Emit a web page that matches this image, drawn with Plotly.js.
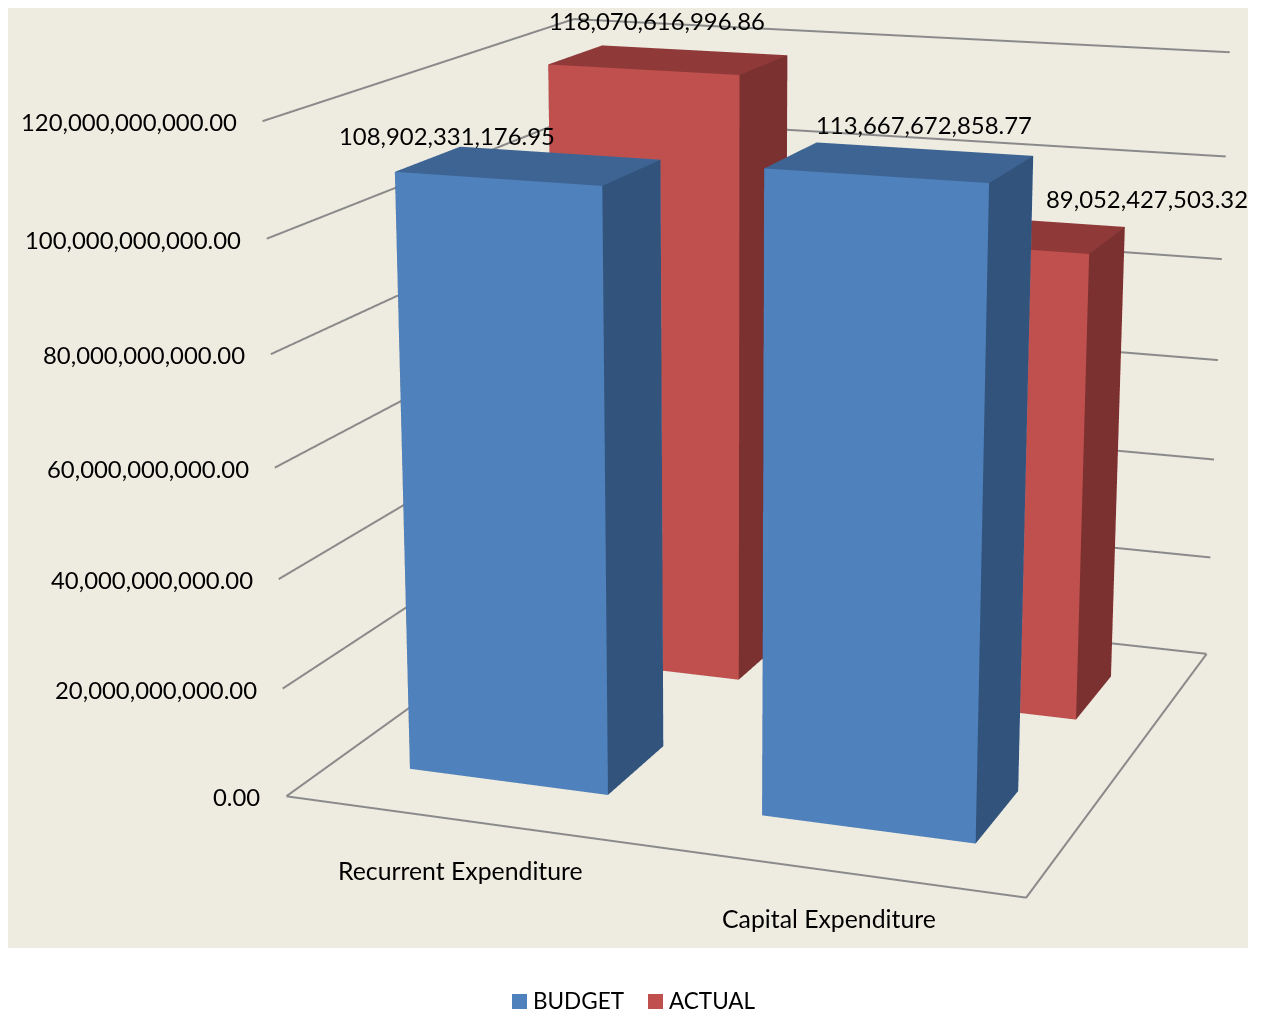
<!DOCTYPE html>
<html>
<head>
<meta charset="utf-8">
<script src="https://cdn.plot.ly/plotly-3.0.1.min.js"></script>
<style>
html,body{margin:0;padding:0;width:1262px;height:1012px;overflow:hidden;background:#fff}
#chart{position:absolute}
</style>
</head>
<body>
<div id="chart"></div>
<script>
// Budget against actual spending, drawn as 3D columns
const categories = ["Recurrent Expenditure", "Capital Expenditure"];
const budget = [108902331176.95, 113667672858.77];
const actual = [118070616996.86, 89052427503.32];
const zTicks = [0, 20e9, 40e9, 60e9, 80e9, 100e9, 120e9];

const seriesNames = ["BUDGET", "ACTUAL"];
const frontColors = ["#4F81BD", "#C0504D"];
const sideColors = ["#32547C", "#7B3130"];
const topColors = ["#3E6493", "#8F3A38"];

const FONT = "Lato, 'Open Sans', sans-serif";
const NUMBER_SIZE = 23.9;
const WORD_SIZE = 24.8;
const LEGEND_SIZE = 22.5;

// Screen offsets of the value labels from the top centre of their columns
const budgetLabelShift = [[-81.5, 30], [23.5, 38]];
const actualLabelShift = [[-12, 39], [140.5, 35]];
const categoryLabelShift = [[0, -50], [-1, -48]];

// The figure is larger than the window because gl3d has a fixed 45 degree field of view:
// a tall plot area gives the long focal length this view needs.
const W = 1446, H = 2832, LEFT = 1, TOP = -957;
const chartDiv = document.getElementById("chart");
chartDiv.style.left = LEFT + "px";
chartDiv.style.top = TOP + "px";
const paperX = px => (px - LEFT) / W;
const paperY = py => 1 - (py - TOP) / H;

const money = v => v.toLocaleString("en-US", {minimumFractionDigits: 2, maximumFractionDigits: 2});

const BAR_HALF_X = 0.5 / 1.75;   // 75% gap between categories
const BAR_HALF_Y = 0.5 / 2.5;    // 150% gap between series in depth

function columnMesh(values, seriesIndex) {
  const m = {x: [], y: [], z: [], i: [], j: [], k: [], facecolor: []};
  const front = frontColors[seriesIndex], side = sideColors[seriesIndex], top = topColors[seriesIndex];
  const quads = [
    [0, 1, 5, 4, front], [1, 2, 6, 5, side], [4, 5, 6, 7, top],
    [3, 0, 4, 7, side], [2, 3, 7, 6, front], [0, 3, 2, 1, top]
  ];
  values.forEach((v, c) => {
    const base = m.x.length;
    const x0 = c + 0.5 - BAR_HALF_X, x1 = c + 0.5 + BAR_HALF_X;
    const y0 = seriesIndex + 0.5 - BAR_HALF_Y, y1 = seriesIndex + 0.5 + BAR_HALF_Y;
    [[x0, y0, 0], [x1, y0, 0], [x1, y1, 0], [x0, y1, 0], [x0, y0, v], [x1, y0, v], [x1, y1, v], [x0, y1, v]]
      .forEach(p => { m.x.push(p[0]); m.y.push(p[1]); m.z.push(p[2]); });
    quads.forEach(q => {
      m.i.push(base + q[0], base + q[0]);
      m.j.push(base + q[1], base + q[2]);
      m.k.push(base + q[2], base + q[3]);
      m.facecolor.push(q[4], q[4]);
    });
  });
  return {
    type: "mesh3d", name: seriesNames[seriesIndex], flatshading: true,
    hoverinfo: "skip", showscale: false,
    lighting: {ambient: 1, diffuse: 0, specular: 0, fresnel: 0, roughness: 1},
    ...m
  };
}

// Wall gridlines and the open edges of the floor
const grid = {x: [], y: [], z: []};
zTicks.forEach(t => {
  grid.x.push(0, 0, categories.length, null);
  grid.y.push(0, 2, 2, null);
  grid.z.push(t, t, t, null);
});
grid.x.push(0, categories.length, categories.length);
grid.y.push(0, 0, 2);
grid.z.push(0, 0, 0);
const gridTrace = {
  type: "scatter3d", mode: "lines", showlegend: false, hoverinfo: "skip",
  line: {color: "#8A8A8A", width: 4}, ...grid
};

const textAnn = (x, y, z, text, size, extra) => Object.assign({
  x, y, z, text, showarrow: false, font: {family: FONT, size, color: "#000"}
}, extra);

const sceneAnnotations = [];
zTicks.forEach(t => sceneAnnotations.push(textAnn(0, 0, t, money(t), NUMBER_SIZE, {xanchor: "right", xshift: -24, yshift: -0.5})));
categories.forEach((c, i) => sceneAnnotations.push(textAnn(i + 0.5, 0, 0, c, WORD_SIZE, {xshift: categoryLabelShift[i][0], yshift: categoryLabelShift[i][1]})));
[[budget, budgetLabelShift], [actual, actualLabelShift]].forEach(([vals, shifts], s) => vals.forEach((v, c) => {
  sceneAnnotations.push(textAnn(c + 0.5, s + 0.5, v, money(v), NUMBER_SIZE, {xshift: shifts[c][0], yshift: shifts[c][1]}));
}));

// Legend keys and names below the chart area
const legendKeyLeft = [512, 648];
const legendTextLeft = [532, 668];
const legendShapes = seriesNames.map((_, s) => ({
  type: "rect", xref: "paper", yref: "paper",
  x0: paperX(legendKeyLeft[s]), x1: paperX(legendKeyLeft[s] + 15), y0: paperY(1009), y1: paperY(994),
  fillcolor: frontColors[s], line: {width: 0}
}));
const legendLabels = seriesNames.map((name, s) => ({
  xref: "paper", yref: "paper", x: paperX(legendTextLeft[s]), y: paperY(1000.5),
  xanchor: "left", yanchor: "middle", showarrow: false, text: name, xshift: -1,
  font: {family: FONT, size: LEGEND_SIZE, color: "#000"}
}));

const hiddenAxis = r => ({
  range: r, showgrid: false, showline: false, zeroline: false, showticklabels: false, showbackground: false,
  showspikes: false, ticks: "", title: {text: ""}
});

const layout = {
  width: W, height: H, autosize: false,
  margin: {l: 0, r: 0, t: 0, b: 0},
  paper_bgcolor: "rgba(0,0,0,0)",
  showlegend: false,
  font: {family: FONT, size: NUMBER_SIZE, color: "#000"},
  shapes: [{
    type: "rect", xref: "paper", yref: "paper", layer: "below",
    x0: paperX(8), x1: paperX(1248), y0: paperY(948), y1: paperY(8),
    fillcolor: "#EEECE1", line: {width: 0}
  }, ...legendShapes],
  annotations: legendLabels,
  scene: {
    domain: {x: [0, 1], y: [0, 1]},
    bgcolor: "rgba(0,0,0,0)",
    dragmode: false,
    aspectmode: "manual",
    aspectratio: {x: 1, y: 1.0011, z: 0.8907},
    camera: {
      eye: {x: 1.4923, y: -4.2471, z: 1.1393},
      center: {x: 0.1551, y: -0.6223, z: 0.1029},
      up: {x: 0, y: 0, z: 1},
      projection: {type: "perspective"}
    },
    xaxis: hiddenAxis([0, categories.length]),
    yaxis: hiddenAxis([0, 2]),
    zaxis: hiddenAxis([0, 120e9]),
    annotations: sceneAnnotations
  }
};

Plotly.newPlot(chartDiv, [gridTrace, columnMesh(budget, 0), columnMesh(actual, 1)], layout, {displayModeBar: false});
</script>
</body>
</html>
